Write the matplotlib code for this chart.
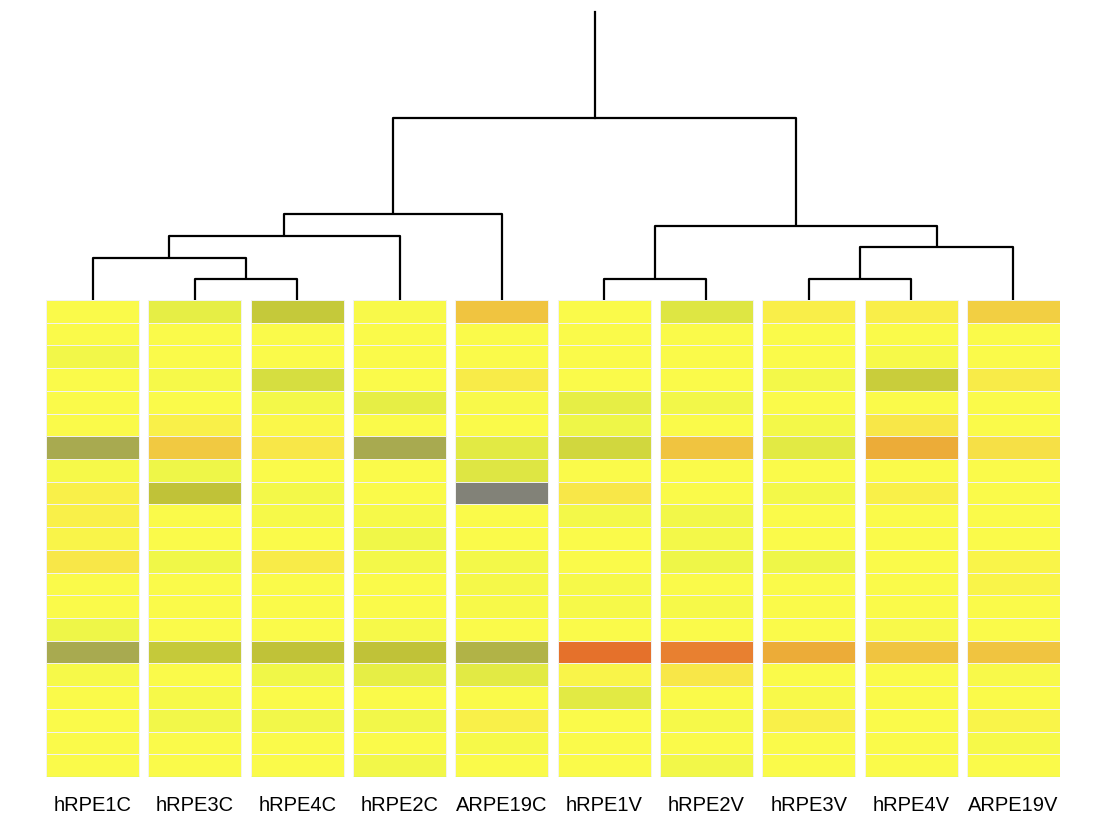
import numpy as np
import matplotlib
matplotlib.use("Agg")
import matplotlib.pyplot as plt
from matplotlib.colors import LinearSegmentedColormap

samples = ["hRPE1C", "hRPE3C", "hRPE4C", "hRPE2C", "ARPE19C",
           "hRPE1V", "hRPE2V", "hRPE3V", "hRPE4V", "ARPE19V"]

# one list per sample, 21 rows top to bottom (relative expression, -1 .. 1)
hRPE1C  = [0, 0, -0.1, 0, 0, 0, -0.75, -0.05, 0.08, 0.08, 0.05, 0.15, 0, 0, -0.15, -0.75, -0.05, 0, 0, 0, 0]
hRPE3C  = [-0.2, 0, 0, -0.05, 0, 0.08, 0.28, -0.15, -0.5, 0, 0, -0.12, 0, 0, 0, -0.45, 0, -0.05, -0.1, 0, 0]
hRPE4C  = [-0.45, 0, 0, -0.3, -0.08, 0.03, 0.15, 0, -0.08, -0.05, 0, 0.12, 0, 0, 0, -0.5, -0.12, 0, -0.1, 0, 0]
hRPE2C  = [-0.03, 0, 0, 0, -0.2, 0, -0.75, 0, 0, -0.05, -0.12, -0.08, 0, 0, -0.05, -0.5, -0.2, 0, -0.1, 0, -0.1]
ARPE19C = [0.3, 0, 0, 0.12, -0.02, 0, -0.22, -0.25, -1.0, 0, 0, -0.08, -0.06, -0.04, 0, -0.65, -0.22, 0, 0.08, -0.05, 0]
hRPE1V  = [0, 0, 0, 0, -0.2, -0.15, -0.35, 0, 0.15, -0.08, 0, 0, -0.05, -0.05, 0, 0.95, 0.05, -0.22, 0, 0, 0]
hRPE2V  = [-0.25, 0, 0, 0, -0.1, 0, 0.3, 0, 0, -0.1, -0.08, -0.15, 0, -0.05, 0, 0.85, 0.15, 0, -0.05, 0, -0.1]
hRPE3V  = [0.1, 0, 0, -0.08, 0, -0.08, -0.22, 0, -0.08, 0, 0, -0.15, 0, 0, 0, 0.45, 0, -0.03, 0.08, 0, 0]
hRPE4V  = [0.1, 0, -0.05, -0.42, 0, 0.15, 0.45, 0, 0.08, 0, 0, 0, 0, 0, -0.03, 0.3, 0, 0, 0, 0, 0]
ARPE19V = [0.25, 0, 0, 0.12, 0, 0, 0.18, 0, 0, 0, 0, 0.05, 0.05, 0, 0, 0.3, -0.03, 0, 0.05, -0.05, 0]

# dendrogram merges: (left node, right node, height); leaves are 0..9
merges = [(1, 2, 21), (0, 10, 42), (11, 3, 64), (12, 4, 86),
          (5, 6, 21), (7, 8, 21), (15, 9, 53), (14, 16, 74),
          (13, 17, 182)]
root_top = 288

data = np.array([hRPE1C, hRPE3C, hRPE4C, hRPE2C, ARPE19C,
                 hRPE1V, hRPE2V, hRPE3V, hRPE4V, ARPE19V]).T
nrows, ncols = data.shape

anchors = [(-1.0, "#828278"), (-0.75, "#a8aa50"), (-0.5, "#c0c238"),
           (-0.3, "#d6de40"), (-0.15, "#eef648"), (0.0, "#fafa4a"),
           (0.15, "#f8e848"), (0.3, "#f0c440"), (0.45, "#ecac38"),
           (0.85, "#e88030"), (1.0, "#e46a28")]
cmap = LinearSegmentedColormap.from_list(
    "expr", [((v + 1) / 2, c) for v, c in anchors])

fig = plt.figure(figsize=(11.14, 8.4), dpi=100)
fig.patch.set_facecolor("white")

W, H = 1114, 840
left, right = 46, 1060
xlim = (-0.455, ncols - 1 + 0.455)

# heatmap
ax = fig.add_axes([left / W, (H - 777) / H, (right - left) / W, 477 / H])
for r in range(nrows):
    ax.bar(np.arange(ncols), 1, bottom=r, width=0.91,
           color=cmap((data[r] + 1) / 2), edgecolor="#f2f2f2",
           linewidth=0.7, align="center")
cols = np.arange(ncols)
ax.hlines(np.full(ncols, nrows - 0.02), cols - 0.455, cols + 0.455,
          color="#b8f080", linewidth=1)
ax.set_xlim(*xlim)
ax.set_ylim(nrows, 0)
ax.set_xticks(cols)
ax.set_xticklabels(samples, fontsize=14.5, family="Liberation Sans")
ax.tick_params(axis="x", length=0, pad=14)
ax.set_yticks([])
for s in ax.spines.values():
    s.set_visible(False)

# dendrogram
dax = fig.add_axes([left / W, (H - 300) / H, (right - left) / W, 300 / H])
pos = {i: (float(i), 0.0) for i in range(ncols)}
node = ncols
for a, b, h in merges:
    xa, ha = pos[a]
    xb, hb = pos[b]
    dax.plot([xa, xa, xb, xb], [ha, h, h, hb], color="black",
             linewidth=1.6, solid_capstyle="butt")
    pos[node] = ((xa + xb) / 2, h)
    node += 1
rx, rh = pos[node - 1]
dax.plot([rx, rx], [rh, root_top], color="black", linewidth=1.6)
dax.set_xlim(*xlim)
dax.set_ylim(0, 300)
dax.axis("off")

fig.savefig("out.png", dpi=100, facecolor="white")
